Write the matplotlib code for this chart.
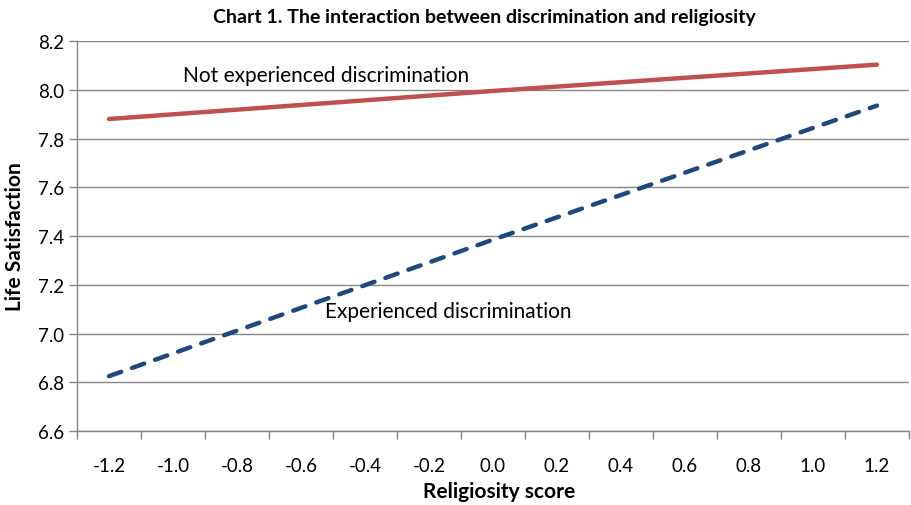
import matplotlib.pyplot as plt
import numpy as np

plt.rcParams['font.family'] = ['Lato', 'DejaVu Sans']

x_ticks = [-1.2, -1.0, -0.8, -0.6, -0.4, -0.2, 0.0, 0.2, 0.4, 0.6, 0.8, 1.0, 1.2]
score = [-1.2, 0.0, 1.2]
not_experienced = [7.88, 7.995, 8.103]
experienced = [6.825, 7.385, 7.935]

fig = plt.figure(figsize=(9.11, 5.06), dpi=100)
ax = fig.add_axes([77/911, 74/506, 832/911, 390/506])

ax.plot(score, not_experienced, color='#C0504D', lw=3.2, solid_capstyle='round')
ax.plot(score, experienced, color='#1F497D', lw=3.2, dashes=(2.9, 2.6), dash_capstyle='round')

ax.set_xlim(-1.3, 1.3)
ax.set_ylim(6.6, 8.2)
ax.set_xticks(x_ticks)
ax.set_xticklabels(['%.1f' % v for v in x_ticks])
ax.set_xticks(np.arange(-1.3, 1.31, 0.2), minor=True)
ax.tick_params(axis='x', which='major', length=0, pad=19, labelsize=13.5)
ax.tick_params(axis='x', which='minor', length=6, color='#868686', width=1)
ax.set_yticks(np.arange(6.6, 8.21, 0.2))
ax.set_yticklabels(['%.1f' % v for v in np.arange(6.6, 8.21, 0.2)])
ax.tick_params(axis='y', length=6, color='#868686', width=1, labelsize=13.5, pad=3)
ax.yaxis.grid(True, color='#868686', lw=1)
ax.set_axisbelow(True)
for s in ['top', 'right']:
    ax.spines[s].set_visible(False)
for s in ['left', 'bottom']:
    ax.spines[s].set_color('#868686')
    ax.spines[s].set_linewidth(1)

ax.text(-0.97, 8.06, 'Not experienced discrimination', fontsize=15, va='center', ha='left')
ax.text(-0.525, 7.092, 'Experienced discrimination', fontsize=15, va='center', ha='left')

fig.text(484/911, 1 - 17/506, 'Chart 1. The interaction between discrimination and religiosity',
         ha='center', va='center', fontsize=14, fontweight='bold')
fig.text(499/911, 1 - 492/506, 'Religiosity score', ha='center', va='center',
         fontsize=15, fontweight='bold')
fig.text(15/911, 1 - 237/506, 'Life Satisfaction', ha='center', va='center',
         rotation=90, fontsize=15, fontweight='bold')

fig.savefig('out.png', dpi=100)
